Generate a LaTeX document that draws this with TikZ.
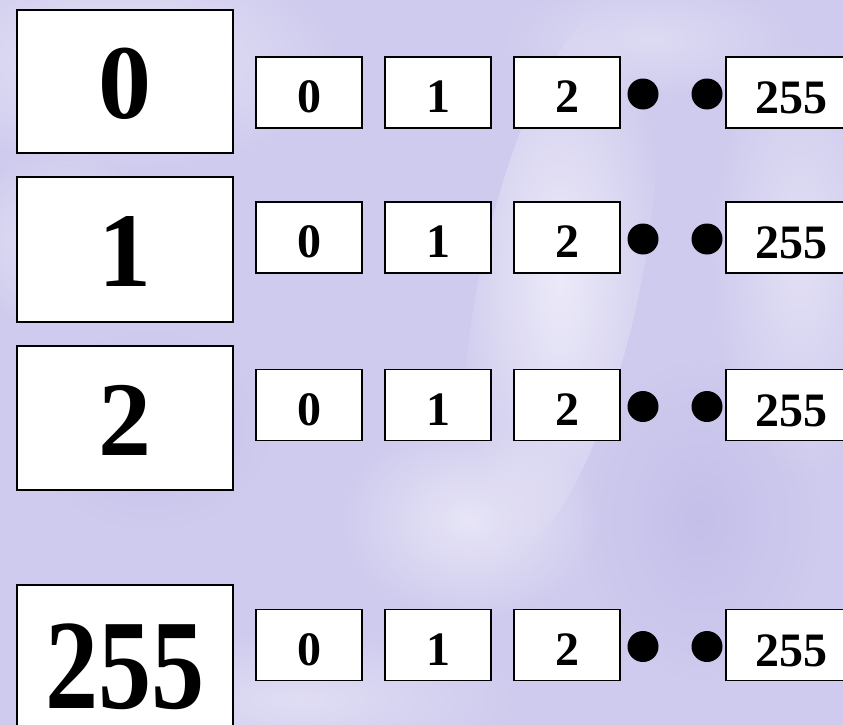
\documentclass[tikz,border=0pt]{standalone}
\usepackage{fontspec}
\usepackage{graphicx}
\setmainfont{Liberation Serif}
\usetikzlibrary{fadings}
\tikzfading[name=glow, inner color=transparent!0, outer color=transparent!100]
\definecolor{bg}{HTML}{CFCBEE}
\begin{document}
\begin{tikzpicture}[x=1pt,y=-1pt,
  bigbox/.style={draw=black, line width=2pt, fill=white, minimum width=216pt, inner sep=0pt},
  cell/.style={draw=black, line width=1.8pt, fill=white, minimum width=106pt, minimum height=71pt, inner sep=0pt},
  widecell/.style={cell, minimum width=130pt},
  bigtxt/.style={font=\fontsize{106}{106}\selectfont\bfseries, inner sep=0pt},
  hugetxt/.style={font=\fontsize{128}{128}\selectfont\bfseries, inner sep=0pt},
  celltxt/.style={font=\fontsize{48}{48}\selectfont\bfseries, inner sep=0pt},
  blob/.style={circle, fill=black, minimum size=31pt, inner sep=0pt}]
\useasboundingbox (0,0) rectangle (843,725);
\clip (0,0) rectangle (843,725);
% background
\fill[bg] (0,0) rectangle (843,725);
\fill[white, opacity=0.5, path fading=glow, fit fading=true] (120,60) ellipse (220 and 110);
\fill[white, opacity=0.6, path fading=glow, fit fading=true, rotate around={-12:(560,280)}] (560,280) ellipse (80 and 280);
\fill[white, opacity=0.5, path fading=glow, fit fading=true] (470,520) ellipse (130 and 100);
\fill[white, opacity=0.45, path fading=glow, fit fading=true] (60,240) ellipse (100 and 90);
\fill[white, opacity=0.4, path fading=glow, fit fading=true] (800,260) ellipse (90 and 220);
\fill[white, opacity=0.35, path fading=glow, fit fading=true] (300,700) ellipse (220 and 70);
\fill[white, opacity=0.3, path fading=glow, fit fading=true] (650,40) ellipse (150 and 60);
\fill[bg!80!blue!90!black, opacity=0.2, path fading=glow, fit fading=true] (700,520) ellipse (120 and 160);
\fill[bg!80!blue!90!black, opacity=0.15, path fading=glow, fit fading=true] (150,430) ellipse (120 and 100);
% rows
\foreach \r/\by/\bh/\lab in {0/81.5/143/0, 1/249.5/145/1, 2/418/144/2}{
  \node[bigbox, minimum height=\bh pt] (big\r) at (125,\by) {};
  \node[bigtxt] (bigl\r) at ([yshift=-2.5pt]big\r.center) {\lab};
}
\node[bigbox, minimum height=150pt] (big3) at (125,660) {};
\node[hugetxt] (bigl3) at (125,667) {\scalebox{0.83}[1]{255}};
\foreach \r/\sy in {0/92.5, 1/237.5, 2/405, 3/645}{
  \node[cell] (c\r a) at (309,\sy) {};
  \node[cell] (c\r b) at (438,\sy) {};
  \node[cell] (c\r c) at (567,\sy) {};
  \node[widecell] (c\r d) at (791,\sy) {};
  \node[celltxt] (t\r a) at ([yshift=-4.5pt]c\r a.center) {0};
  \node[celltxt] (t\r b) at ([yshift=-4.5pt]c\r b.center) {1};
  \node[celltxt] (t\r c) at ([yshift=-4.5pt]c\r c.center) {2};
  \node[celltxt] (t\r d) at ([yshift=-5.5pt]c\r d.center) {255};
  \node[blob] (d\r a) at (643,\sy+1.5) {};
  \node[blob] (d\r b) at (707,\sy+1.5) {};
}
\end{tikzpicture}
\end{document}
